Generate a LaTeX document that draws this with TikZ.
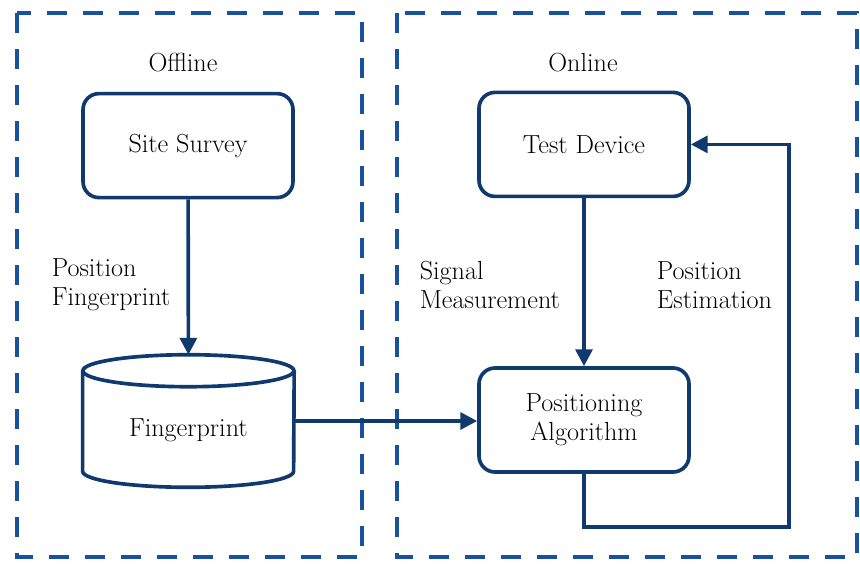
\documentclass[tikz,border=0pt]{standalone}
\usepackage{amssymb, amsmath}
\usepackage{tikz}
\usepackage{xcolor}
\usetikzlibrary{math, arrows.meta}

\definecolor{boxblue}{RGB}{16,58,110}
\definecolor{dashblue}{RGB}{24,82,158}

\begin{document}
\begin{tikzpicture}[
  box/.style={draw=boxblue, line width=2.6pt, rounded corners=0.4cm, minimum width=5.25cm, minimum height=2.6cm},
  flow/.style={draw=boxblue, line width=2.6pt, -{Triangle[length=0.42cm,width=0.42cm]}},
  area/.style={draw=dashblue, line width=2.9pt, dash pattern=on 0.5cm off 0.4cm},
  font=\fontsize{18.6}{20.5}\selectfont
]

\tikzmath{
\scale = 1;
\rx = 2.6375;
\ry = 0.4;
}

\useasboundingbox (0,0) rectangle (21.5*\scale,-14.075*\scale);

% offline / online areas
\draw[area] (0.425*\scale,-0.325*\scale) rectangle (9.05*\scale,-13.925*\scale);
\draw[area] (9.925*\scale,-0.325*\scale) rectangle (21.425*\scale,-13.925*\scale);
\node (offline) at (4.575*\scale,-1.575*\scale) {Offline};
\node (online) at (14.575*\scale,-1.575*\scale) {Online};

% boxes
\node[box] (survey) at (4.7*\scale,-3.64*\scale) {Site Survey};
\node[box] (device) at (14.6*\scale,-3.61*\scale) {Test Device};
\node[box, align=center] (algo) at (14.6*\scale,-10.5*\scale) {Positioning\\Algorithm};

% database
\node[minimum width=2*\rx cm, minimum height=3.3cm] (fp) at (4.71*\scale,-10.525*\scale) {};
\draw[boxblue, line width=2.6pt] ([yshift=-\ry cm]fp.north) ellipse ({\rx} and {\ry});
\draw[boxblue, line width=2.6pt] ([yshift=-\ry cm]fp.north west) -- ([yshift=\ry cm]fp.south west)
  arc[start angle=180, end angle=360, x radius=\rx, y radius=\ry] -- ([yshift=-\ry cm]fp.north east);
\node (fptext) at ([yshift=-0.22cm]fp.center) {Fingerprint};

% labels
\node[anchor=west, align=left] (poslabel) at (1.17*\scale,-7.125*\scale) {Position\\Fingerprint};
\node[anchor=west, align=left] (siglabel) at (10.37*\scale,-7.125*\scale) {Signal\\Measurement};
\node[anchor=west, align=left] (estlabel) at (16.3*\scale,-7.125*\scale) {Position\\Estimation};

% connectors
\draw[flow] (survey) -- (fp.north);
\draw[flow] (fp.east) -- (fp.east -| algo.west);
\draw[flow] (device) -- (algo);
\coordinate (turn) at (19.725*\scale,-13.175*\scale);
\draw[flow] (algo.south) |- (turn) |- (device.east);

\end{tikzpicture}
\end{document}
